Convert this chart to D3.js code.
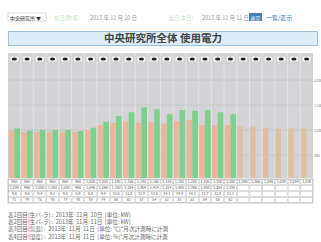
<!DOCTYPE html>
<html>
<head>
<meta charset="utf-8">
<script src="https://cdn.jsdelivr.net/npm/d3@7"></script>
<style>
  body { margin: 0; background: #fff; }
  text { font-family: "Noto Sans CJK JP", "DejaVu Sans", sans-serif; }
</style>
</head>
<body>
<div id="chart"></div>
<script>
// data
var hours = d3.range(24).map(function(h) { return h + ":00"; });
var prevDay = [980, 960, 960, 960, 960, 960, 1000, 1100, 1140, 1166, 1140, 1166,
               1134, 1180, 1200, 1100, 1100, 1100, 1066, 1066, 1046, 1034, 1034, 1034];
var today = [1034, 986, 1000, 1000, 1000, 980, 1046, 1166, 1280, 1354, 1454, 1414,
             1314, 1400, 1386, 1400, 1354, 1314];
var temps = [9.8, 9.6, 9.4, 9.2, 9.0, 8.9, 8.8, 9.4, 10.6, 11.8, 12.9, 13.6,
             14.1, 14.4, 14.2, 13.7, 12.9, 12.1];
var humid = [72, 74, 75, 76, 77, 78, 78, 74, 68, 62, 57, 54, 52, 51, 52, 54, 58, 62];
var yTicks = [500, 1000, 1500, 2000];
var notes = [
  "表1回目(生バ-ラ) :  2013年  11月  10日  [単位: kW]",
  "表2回目(生バ-ラ) :  2013年  11月  11日  [単位: kW]",
  "表3回目(気温) :  2013年  11月  11日  [単位: ℃]*月次計測時に計測",
  "表4回目(湿度) :  2013年  11月  11日  [単位: %]*月次計測時に計測"
];

var W = 321, H = 242;
var svg = d3.select("#chart").append("svg")
    .attr("width", W).attr("height", H);
svg.append("rect").attr("width", W).attr("height", H).attr("fill", "#fff");

// top control row
svg.append("rect").attr("x", 8).attr("y", 13).attr("width", 38).attr("height", 8)
    .attr("fill", "#fff").attr("stroke", "#bbb").attr("stroke-width", 0.5);
svg.append("text").attr("x", 10).attr("y", 19.5).attr("font-size", 5).attr("fill", "#333")
    .text("中央研究所  ▼");
svg.append("text").attr("x", 54).attr("y", 19.5).attr("font-size", 5.5).attr("fill", "#bfe3c0")
    .text("前日(昨年)");
svg.append("text").attr("x", 90).attr("y", 19.5).attr("font-size", 5.5).attr("fill", "#999")
    .text("2013 年 11 月 10 日");
svg.append("text").attr("x", 168).attr("y", 19.5).attr("font-size", 5.5).attr("fill", "#bfe3c0")
    .text("当日(本日)");
svg.append("text").attr("x", 202).attr("y", 19.5).attr("font-size", 5.5).attr("fill", "#999")
    .text("2013 年 11 月 11 日");
svg.append("rect").attr("x", 249).attr("y", 13).attr("width", 13).attr("height", 8)
    .attr("fill", "#4a7fb0");
svg.append("text").attr("x", 250.5).attr("y", 19.5).attr("font-size", 5).attr("fill", "#fff")
    .text("表示");
svg.append("text").attr("x", 266).attr("y", 19.5).attr("font-size", 6).attr("fill", "#3a78c2")
    .text("一覧/表示");

// title box
svg.append("rect").attr("x", 8.5).attr("y", 31.5).attr("width", 309).attr("height", 14)
    .attr("fill", "#dcecf8").attr("stroke", "#9cc2e2");
svg.append("text").attr("x", 163).attr("y", 42).attr("text-anchor", "middle")
    .attr("font-size", 10.5).attr("font-weight", "bold").attr("fill", "#444")
    .text("中央研究所全体 使用電力");

// plot
var plot = {left: 8, right: 313, top: 53, bottom: 178};
var x = d3.scaleBand().domain(hours).range([plot.left, plot.right]).padding(0);
var y = d3.scaleLinear().domain([0, 2500]).range([180, 55]);

svg.append("rect").attr("x", plot.left).attr("y", plot.top)
    .attr("width", plot.right - plot.left).attr("height", plot.bottom - plot.top)
    .attr("fill", "#d3d3d5");

// column separators
svg.selectAll(".sep").data(hours.slice(1)).enter().append("line")
    .attr("x1", function(d) { return x(d); }).attr("x2", function(d) { return x(d); })
    .attr("y1", plot.top).attr("y2", plot.bottom)
    .attr("stroke", "#e2e2e6").attr("stroke-width", 1);

// grid
svg.selectAll(".grid").data(yTicks).enter().append("line")
    .attr("x1", plot.left).attr("x2", plot.right)
    .attr("y1", function(d) { return y(d); }).attr("y2", function(d) { return y(d); })
    .attr("stroke", "#c4c4c6").attr("stroke-width", 0.8);

// icons row
var icons = svg.selectAll(".icon").data(hours).enter().append("g")
    .attr("transform", function(d) { return "translate(" + (x(d) + x.bandwidth() / 2) + ",59)"; });
icons.append("rect").attr("x", -4).attr("y", -2.5).attr("width", 8).attr("height", 5)
    .attr("rx", 1).attr("fill", "#f4f4f4");
icons.append("ellipse").attr("rx", 2.6).attr("ry", 1.5).attr("fill", "#222");

// bars
var bw = x.bandwidth();
svg.selectAll(".prev").data(prevDay).enter().append("rect")
    .attr("x", function(d, i) { return x(hours[i]) + bw * 0.06; })
    .attr("y", function(d) { return y(d); })
    .attr("width", bw * 0.42)
    .attr("height", function(d) { return plot.bottom - y(d); })
    .attr("fill", function(d, i) { return i < today.length ? "#eab79b" : "#dcc0a4"; });

svg.selectAll(".today").data(today).enter().append("rect")
    .attr("x", function(d, i) { return x(hours[i]) + bw * 0.5; })
    .attr("y", function(d) { return y(d); })
    .attr("width", bw * 0.44)
    .attr("height", function(d) { return plot.bottom - y(d); })
    .attr("fill", "#7fcf8e");

// right axis
var yAxis = d3.axisRight(y).tickValues(yTicks).tickSize(0).tickPadding(0)
    .tickFormat(d3.format(","));
var ax = svg.append("g").attr("transform", "translate(" + (plot.right + 1) + ",0)").call(yAxis);
ax.select(".domain").remove();
ax.selectAll("text").attr("font-size", 3.4).attr("fill", "#777");

// table
var fmt = d3.format(",");
var rows = [
  prevDay.map(fmt),
  today.map(fmt),
  temps.map(function(d) { return d.toFixed(1); }),
  humid.map(String)
];
var rowH = 6, tTop = 179;
rows.forEach(function(r, ri) {
  hours.forEach(function(h, i) {
    svg.append("rect").attr("x", x(h) + 0.5).attr("y", tTop + ri * rowH + 0.5)
        .attr("width", bw - 1).attr("height", rowH - 1)
        .attr("fill", "#fff").attr("stroke", "#aaa").attr("stroke-width", 0.4);
    if (r[i] !== undefined) {
      svg.append("text").attr("x", x(h) + bw / 2).attr("y", tTop + ri * rowH + 4.3)
          .attr("text-anchor", "middle").attr("font-size", 3.6).attr("fill", "#555")
          .text(r[i]);
    }
  });
});
svg.append("rect").attr("x", plot.left).attr("y", tTop)
    .attr("width", plot.right - plot.left).attr("height", rowH * 4)
    .attr("fill", "none").attr("stroke", "#999").attr("stroke-width", 0.5);

// notes
svg.selectAll(".note").data(notes).enter().append("text")
    .attr("x", 8).attr("y", function(d, i) { return 217 + i * 7.2; })
    .attr("font-size", 5.6).attr("fill", "#666")
    .style("white-space", "pre").attr("xml:space", "preserve")
    .text(function(d) { return d; });
</script>
</body>
</html>
